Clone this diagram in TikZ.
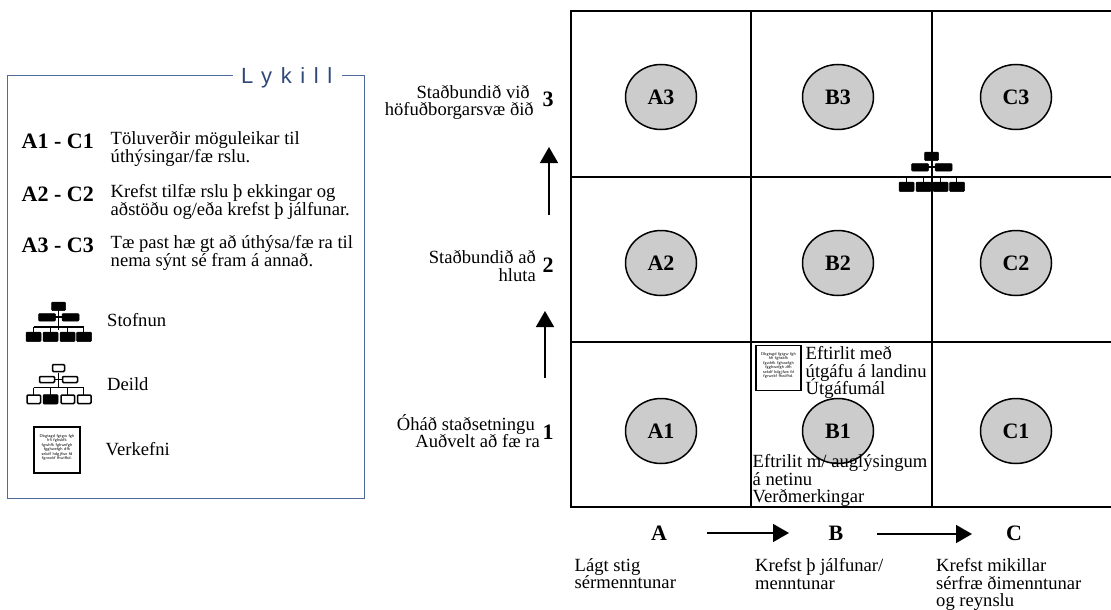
\documentclass[tikz,border=0pt]{standalone}
\usepackage{fontspec}
\setmainfont{Liberation Serif}
\newfontfamily\lyk[LetterSpace=39]{Liberation Sans}
\usetikzlibrary{arrows.meta,shapes.geometric}
\lineskiplimit=-30pt
\lineskip=0pt
\definecolor{keyblue}{RGB}{79,107,155}
\definecolor{keytext}{RGB}{48,72,120}
\definecolor{cellgray}{RGB}{204,204,204}
\tikzset{
 x=1pt,y=-1pt,
 gridline/.style={line width=2pt,black},
 cellnode/.style={ellipse,draw=black,line width=1.5pt,fill=cellgray,minimum width=71pt,minimum height=65pt,inner sep=0pt,font=\fontsize{22}{22}\selectfont\bfseries},
 txt/.style={inner sep=0pt,align=left,anchor=north west,font=\fontsize{18.6}{17.8}\selectfont},
 txtr/.style={inner sep=0pt,align=right,anchor=north east,font=\fontsize{18.6}{16.7}\selectfont},
 keylab/.style={inner sep=0pt,anchor=west,font=\fontsize{22}{22}\selectfont\bfseries},
 axlab/.style={inner sep=0pt,font=\fontsize{22}{22}\selectfont\bfseries},
 flow/.style={line width=1.6pt,-{Triangle[length=16pt,width=18pt]}},
 solidbox/.style={draw=black,fill=black,rounded corners=1pt,line width=.5pt},
 openbox/.style={draw=black,fill=white,rounded corners=1pt,line width=1.5pt},
 tree/.style={line width=1.5pt,black},
 memo/.style={draw=black,fill=white,line width=1.6pt},
 tiny/.style={inner sep=0pt,align=center,font=\fontsize{4.2}{4.4}\selectfont\sffamily},
}
\newcommand{\stofn}[2]{%
 \begin{scope}[shift={(#1,#2)}]
  \draw[tree] (0,0)--(0,20) (-25,17)--(25,17) (-25,17)--(-25,23) (-8,17)--(-8,23) (9,17)--(9,23) (25,17)--(25,23) (-12,7)--(12,7);
  \fill[solidbox] (-7,-8) rectangle (7,0.5);
  \fill[solidbox] (-20,3.5) rectangle (-3,11);
  \fill[solidbox] (3.5,3.5) rectangle (20.5,11);
  \fill[solidbox] (-32.5,22) rectangle (-17.5,31.5);
  \fill[solidbox] (-15.5,22) rectangle (-0.5,31.5);
  \fill[solidbox] (1.5,22) rectangle (16.5,31.5);
  \fill[solidbox] (18,22) rectangle (33,31.5);
 \end{scope}}
\newcommand{\deild}[2]{%
 \begin{scope}[shift={(#1,#2)}]
  \draw[tree] (0,0)--(0,15) (-25,15)--(25,15) (-25,15)--(-25,22) (-8,15)--(-8,22) (9,15)--(9,22) (25,15)--(25,22) (-12,7)--(12,7);
  \draw[openbox] (-6,-8) rectangle (6,-1);
  \draw[openbox] (-19,4) rectangle (-4,10);
  \draw[openbox] (4,4) rectangle (19,10);
  \draw[openbox] (-31.5,22.5) rectangle (-18,31);
  \fill[solidbox] (-15.5,22) rectangle (-0.5,31.5);
  \draw[openbox] (2.5,22.5) rectangle (16,31);
  \draw[openbox] (19,22.5) rectangle (32.5,31);
 \end{scope}}
\newcommand{\memotext}{Dbgtsgd fgtgw fgh\\hfi fghskfk\\fgwhfk fghwefgh\\fgghwefgh dfh\\sekdf hdgjfwe fd\\fgrwekf fhwifhd.}
\begin{document}
\begin{tikzpicture}
\useasboundingbox (0,0) rectangle (1111,610);
% key frame
\coordinate (kTL) at (7.5,76); \coordinate (kTR) at (364.5,76);
\coordinate (kBR) at (364.5,498.5); \coordinate (kBL) at (7.5,498.5);
\coordinate (kA) at (233,76); \coordinate (kB) at (342,76);
\draw[keyblue,line width=1pt] (kA)--(kTL)--(kBL)--(kBR)--(kTR)--(kB);
\node[inner sep=0pt,anchor=base west,text=keytext,font=\fontsize{22}{22}\lyk] (lykill) at (241,83) {Lykill};
\node[keylab] (k1) at (21.5,141) {A1 - C1};
\node[keylab] (k2) at (21.5,194) {A2 - C2};
\node[keylab] (k3) at (21.5,245) {A3 - C3};
\node[txt] (k1t) at (110.5,131) {Töluverðir möguleikar til\\úthýsingar/fæ rslu.};
\node[txt] (k2t) at (110.5,184.5) {Krefst tilfæ rslu þ ekkingar og\\aðstöðu og/eða krefst þ jálfunar.};
\node[txt] (k3t) at (110.5,235) {Tæ past hæ gt að úthýsa/fæ ra til\\nema sýnt sé fram á annað.};
\stofn{58.5}{310}
\deild{58.5}{372.5}
\node[txt] (s) at (107,313) {Stofnun};
\node[txt] (d) at (107,377) {Deild};
\node[txt] (v) at (105.5,442) {Verkefni};
\node[memo,minimum width=46pt,minimum height=46pt,inner sep=0pt] (memoA) at (57,450) {};
\node[tiny] (memoAt) at (57,447.5) {\memotext};
% grid
\coordinate (g1) at (570.5,11); \coordinate (g2) at (1111,11);
\coordinate (g3) at (1111,507); \coordinate (g4) at (570.5,507);
\draw[gridline] (g2)--(g1)--(g4)--(g3);
\coordinate (v1t) at (751,11); \coordinate (v1b) at (751,507);
\coordinate (v2t) at (932,11); \coordinate (v2b) at (932,507);
\coordinate (h1l) at (570.5,176.5); \coordinate (h1r) at (1111,176.5);
\coordinate (h2l) at (570.5,341.5); \coordinate (h2r) at (1111,341.5);
\draw[gridline] (v1t)--(v1b) (v2t)--(v2b) (h1l)--(h1r) (h2l)--(h2r);
\foreach \n/\x/\y in {A3/661/97,B3/838/97,C3/1016/97,A2/661/263,B2/838/263,C2/1016/263,A1/661/431,B1/838/431,C1/1016/431}
  \node[cellnode] (\n) at (\x,\y) {\n};
\stofn{931.5}{160}
% memo in B1
\node[memo,minimum width=45pt,minimum height=45pt,inner sep=0pt] (memoB) at (778.5,368) {};
\node[tiny] (memoBt) at (778.5,365.5) {\memotext};
\node[txt] (b1a) at (805.5,346) {Eftirlit með\\útgáfu á landinu\\Útgáfumál};
\node[txt] (b1b) at (752.5,454) {Eftrilit m/ auglýsingum\\á netinu\\Verðmerkingar};
% rows
\node[txtr] (r3) at (534,85) {Staðbundið við\hspace*{4pt}\\höfuðborgarsvæ ðið};
\node[axlab] (n3) at (548,99) {3};
\node[txtr,font=\fontsize{18.6}{17.8}\selectfont] (r2) at (536,250) {Staðbundið að\\hluta};
\node[axlab] (n2) at (548,265) {2};
\node[txtr] (r1) at (540,414.5) {Óháð staðsetningu\hspace*{5pt}\\Auðvelt að fæ ra};
\node[axlab] (n1) at (548,432) {1};
\coordinate (a1s) at (545,378); \coordinate (a1e) at (545,311);
\coordinate (a2s) at (549,215); \coordinate (a2e) at (549,147);
\draw[flow] (a1s)--(a1e);
\draw[flow] (a2s)--(a2e);
% columns
\node[axlab] (ca) at (659,533) {A};
\node[axlab] (cb) at (836,533) {B};
\node[axlab] (cc) at (1014,533) {C};
\coordinate (b1s) at (707,533); \coordinate (b1e) at (789,533);
\coordinate (b2s) at (877,534); \coordinate (b2e) at (972,534);
\draw[flow] (b1s)--(b1e);
\draw[flow] (b2s)--(b2e);
\node[txt] (l1) at (574.5,558) {Lágt stig\\sérmenntunar};
\node[txt] (l2) at (755,558) {Krefst þ jálfunar/\\menntunar};
\node[txt] (l3) at (936,558) {Krefst mikillar\\sérfræ ðimenntunar\\og reynslu};
\end{tikzpicture}
\end{document}
